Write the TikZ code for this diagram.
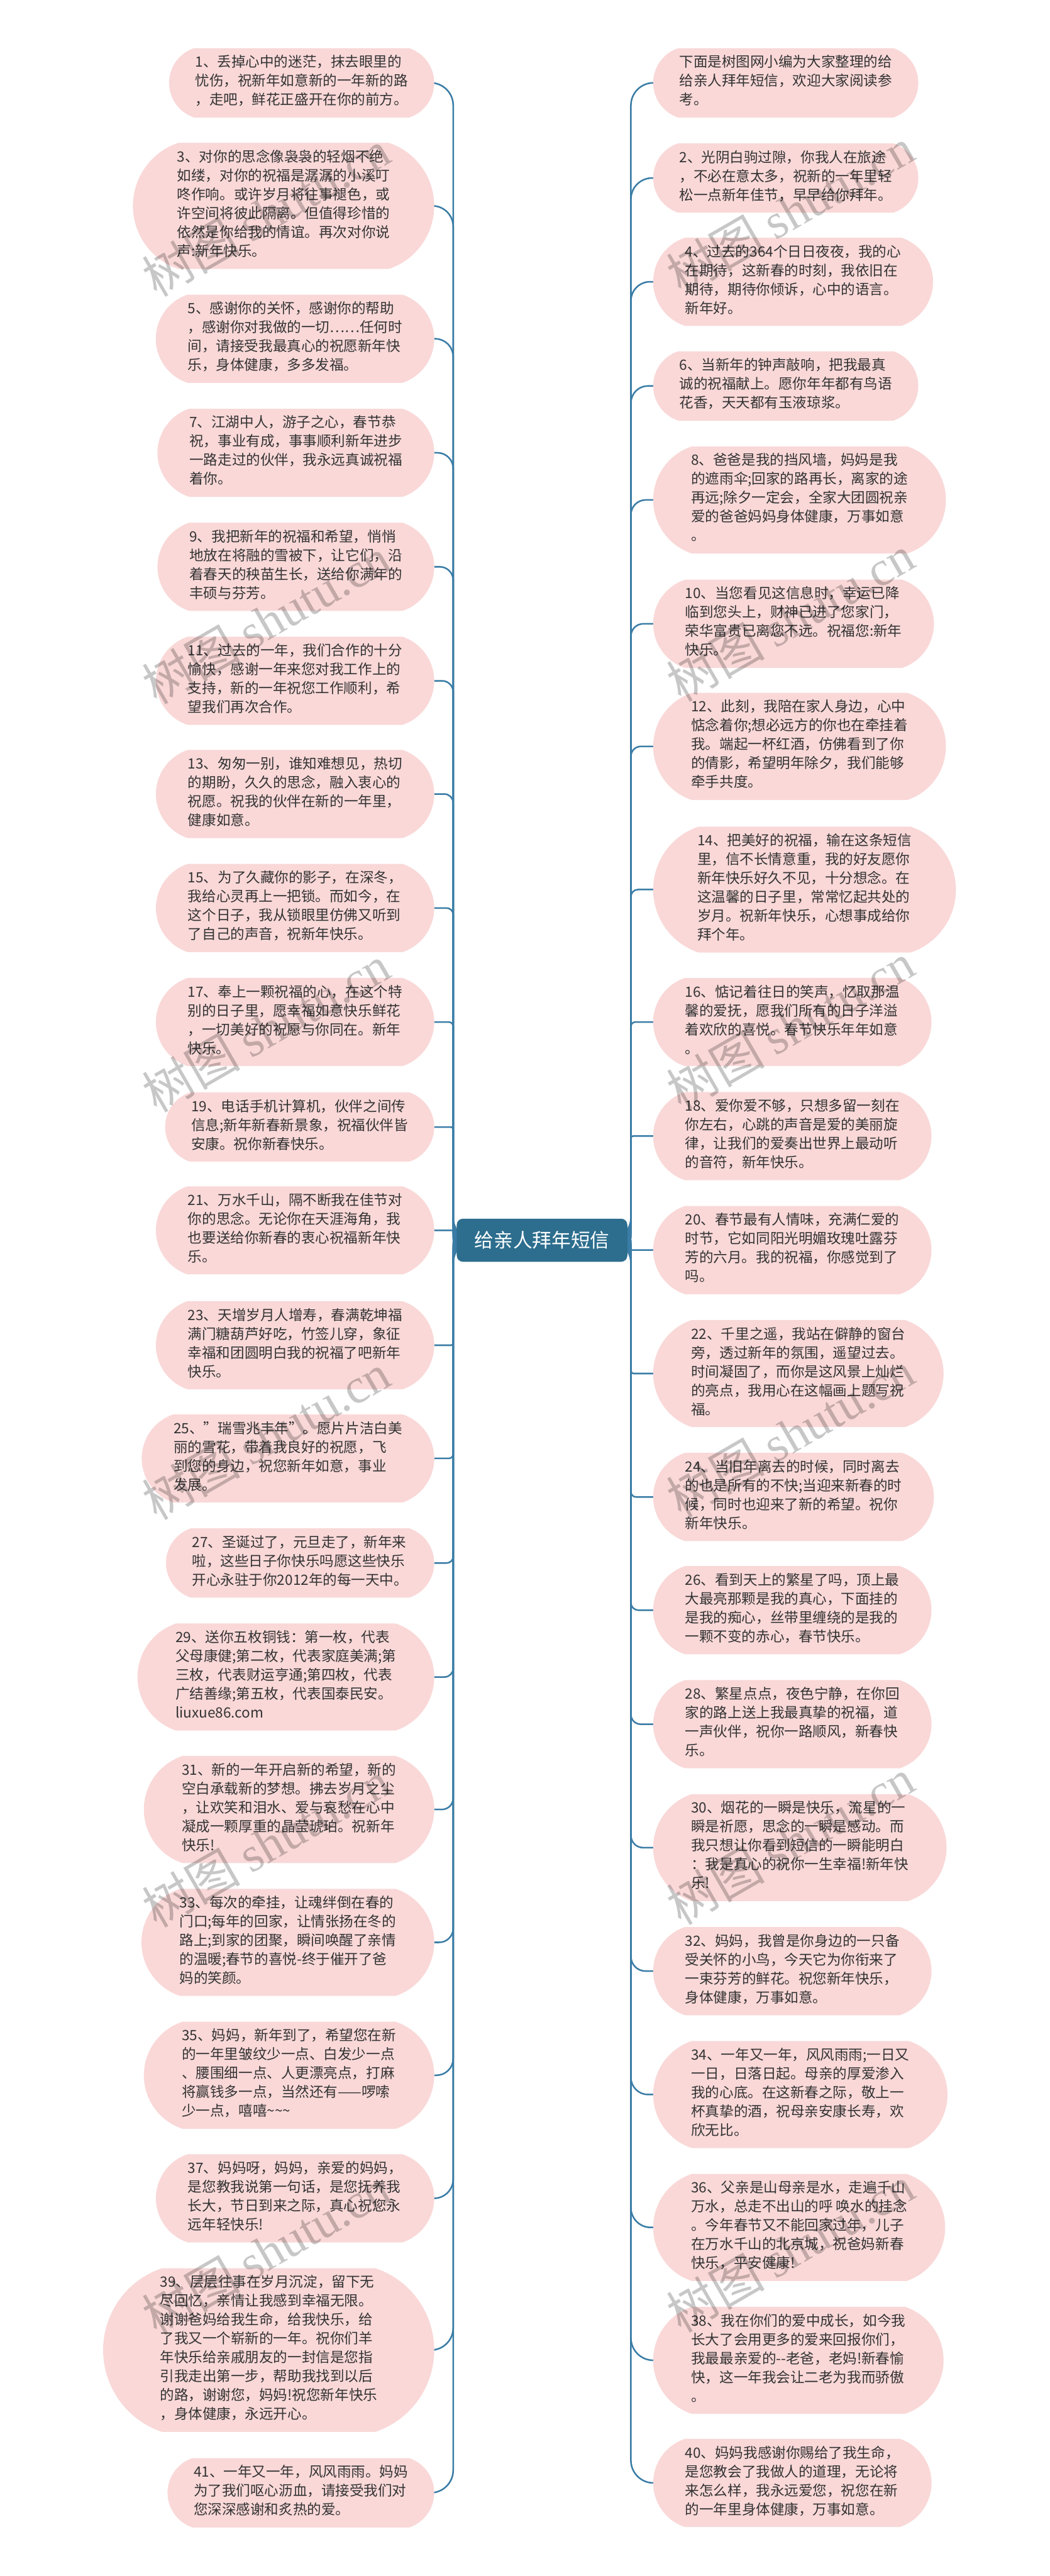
\documentclass[tikz,border=0pt]{standalone}
\usepackage{fontspec}
\setmainfont{Noto Sans CJK SC}
\newfontfamily\wmserif{Liberation Serif}
\usetikzlibrary{shapes.misc,backgrounds}
\definecolor{leafpink}{HTML}{FAD8D8}
\definecolor{linkblue}{HTML}{3A7CA5}
\definecolor{rootblue}{HTML}{2D6E8E}
\definecolor{leafgray}{HTML}{333333}

\begin{document}
\begin{tikzpicture}[y=-1cm,
	leaf/.style={rounded rectangle, rounded rectangle arc length=143, fill=leafpink, text=leafgray,
		align=left, inner xsep=0.33cm, inner ysep=0.17cm, outer sep=0pt,
		font=\fontsize{9.84}{13.09}\selectfont, execute at begin node=\strut, execute at end node=\strut},
	root/.style={rounded corners=0.15cm, fill=rootblue, text=white, minimum width=4.16cm,
		minimum height=1.05cm, font=\fontsize{13.4}{16}\selectfont},
	link/.style={draw=linkblue, line width=1.1pt},
	stamp/.style={rotate=30, text=black, text opacity=0.22, font=\fontsize{34}{34}\selectfont}]
	%\draw[help lines] (0,0) grid (25.6,62.8);
	\useasboundingbox (0,0) rectangle (25.60,62.81);
	
	\node[root] (root) at (13.22,30.24) {给亲人拜年短信};
	
	% left side
	\foreach \n/\y/\t in {
		1/2.02/1、丢掉心中的迷茫，抹去眼里的\\忧伤，祝新年如意新的一年新的路\\，走吧，鲜花正盛开在你的前方。,
		3/5.02/3、对你的思念像袅袅的轻烟不绝\\如缕，对你的祝福是潺潺的小溪叮\\咚作响。或许岁月将往事褪色，或\\许空间将彼此隔离。但值得珍惜的\\依然是你给我的情谊。再次对你说\\声:新年快乐。,
		5/8.26/5、感谢你的关怀，感谢你的帮助\\，感谢你对我做的一切……任何时\\间，请接受我最真心的祝愿新年快\\乐，身体健康，多多发福。,
		7/11.04/7、江湖中人，游子之心，春节恭\\祝，事业有成，事事顺利新年进步\\一路走过的伙伴，我永远真诚祝福\\着你。,
		9/13.82/9、我把新年的祝福和希望，悄悄\\地放在将融的雪被下，让它们，沿\\着春天的秧苗生长，送给你满年的\\丰硕与芬芳。,
		11/16.60/11、过去的一年，我们合作的十分\\愉快，感谢一年来您对我工作上的\\支持，新的一年祝您工作顺利，希\\望我们再次合作。,
		13/19.36/13、匆匆一别，谁知难想见，热切\\的期盼，久久的思念，融入衷心的\\祝愿。祝我的伙伴在新的一年里，\\健康如意。,
		15/22.14/15、为了久藏你的影子，在深冬，\\我给心灵再上一把锁。而如今，在\\这个日子，我从锁眼里仿佛又听到\\了自己的声音，祝新年快乐。,
		17/24.92/17、奉上一颗祝福的心，在这个特\\别的日子里，愿幸福如意快乐鲜花\\，一切美好的祝愿与你同在。新年\\快乐。,
		19/27.48/19、电话手机计算机，伙伴之间传\\信息;新年新春新景象，祝福伙伴皆\\安康。祝你新春快乐。,
		21/30.00/21、万水千山，隔不断我在佳节对\\你的思念。无论你在天涯海角，我\\也要送给你新春的衷心祝福新年快\\乐。,
		23/32.80/23、天增岁月人增寿，春满乾坤福\\满门糖葫芦好吃，竹签儿穿，象征\\幸福和团圆明白我的祝福了吧新年\\快乐。,
		25/35.56/25、"瑞雪兆丰年"。愿片片洁白美\\丽的雪花，带着我良好的祝愿，飞\\到您的身边，祝您新年如意，事业\\发展。,
		27/38.11/27、圣诞过了，元旦走了，新年来\\啦，这些日子你快乐吗愿这些快乐\\开心永驻于你2012年的每一天中。,
		29/40.89/29、送你五枚铜钱：第一枚，代表\\父母康健;第二枚，代表家庭美满;第\\三枚，代表财运亨通;第四枚，代表\\广结善缘;第五枚，代表国泰民安。\\liuxue86.com,
		31/44.12/31、新的一年开启新的希望，新的\\空白承载新的梦想。拂去岁月之尘\\，让欢笑和泪水、爱与哀愁在心中\\凝成一颗厚重的晶莹琥珀。祝新年\\快乐!,
		33/47.36/33、每次的牵挂，让魂绊倒在春的\\门口;每年的回家，让情张扬在冬的\\路上;到家的团聚，瞬间唤醒了亲情\\的温暖;春节的喜悦-终于催开了爸\\妈的笑颜。,
		35/50.60/35、妈妈，新年到了，希望您在新\\的一年里皱纹少一点、白发少一点\\、腰围细一点、人更漂亮点，打麻\\将赢钱多一点，当然还有——啰嗦\\少一点，嘻嘻\textasciitilde\textasciitilde\textasciitilde,
		37/53.60/37、妈妈呀，妈妈，亲爱的妈妈，\\是您教我说第一句话，是您抚养我\\长大，节日到来之际，真心祝您永\\远年轻快乐!,
		39/57.30/39、层层往事在岁月沉淀，留下无\\尽回忆，亲情让我感到幸福无限。\\谢谢爸妈给我生命，给我快乐，给\\了我又一个崭新的一年。祝你们羊\\年快乐给亲戚朋友的一封信是您指\\引我走出第一步，帮助我找到以后\\的路，谢谢您，妈妈!祝您新年快乐\\，身体健康，永远开心。,
		41/60.78/41、一年又一年，风风雨雨。妈妈\\为了我们呕心沥血，请接受我们对\\您深深感谢和炙热的爱。}
	{
		\node[leaf, anchor=east] (l\n) at (10.59,\y) {\t};
		\pgfmathsetmacro\rr{min(0.55,0.02*abs(\y-30.24))}
		\begin{scope}[on background layer]
			\draw[link, rounded corners=\rr cm] (root.west) -- ++(-0.08,0) |- (l\n.east);
		\end{scope}
	}
	
	% right side
	\foreach \n/\y/\t in {
		0/2.02/下面是树图网小编为大家整理的给\\给亲人拜年短信，欢迎大家阅读参\\考。,
		2/4.34/2、光阴白驹过隙，你我人在旅途\\，不必在意太多，祝新的一年里轻\\松一点新年佳节，早早给你拜年。,
		4/6.87/4、过去的364个日日夜夜，我的心\\在期待，这新春的时刻，我依旧在\\期待，期待你倾诉，心中的语言。\\新年好。,
		6/9.41/6、当新年的钟声敲响，把我最真\\诚的祝福献上。愿你年年都有鸟语\\花香，天天都有玉液琼浆。,
		8/12.19/8、爸爸是我的挡风墙，妈妈是我\\的遮雨伞;回家的路再长，离家的途\\再远;除夕一定会，全家大团圆祝亲\\爱的爸爸妈妈身体健康，万事如意\\。,
		10/15.21/10、当您看见这信息时，幸运已降\\临到您头上，财神已进了您家门，\\荣华富贵已离您不远。祝福您:新年\\快乐。,
		12/18.20/12、此刻，我陪在家人身边，心中\\惦念着你;想必远方的你也在牵挂着\\我。端起一杯红酒，仿佛看到了你\\的倩影，希望明年除夕，我们能够\\牵手共度。,
		14/21.69/14、把美好的祝福，输在这条短信\\里，信不长情意重，我的好友愿你\\新年快乐好久不见，十分想念。在\\这温馨的日子里，常常忆起共处的\\岁月。祝新年快乐，心想事成给你\\拜个年。,
		16/24.92/16、惦记着往日的笑声，忆取那温\\馨的爱抚，愿我们所有的日子洋溢\\着欢欣的喜悦。春节快乐年年如意\\。,
		18/27.70/18、爱你爱不够，只想多留一刻在\\你左右，心跳的声音是爱的美丽旋\\律，让我们的爱奏出世界上最动听\\的音符，新年快乐。,
		20/30.48/20、春节最有人情味，充满仁爱的\\时节，它如同阳光明媚玫瑰吐露芬\\芳的六月。我的祝福，你感觉到了\\吗。,
		22/33.49/22、千里之遥，我站在僻静的窗台\\旁，透过新年的氛围，遥望过去。\\时间凝固了，而你是这风景上灿烂\\的亮点，我用心在这幅画上题写祝\\福。,
		24/36.50/24、当旧年离去的时候，同时离去\\的也是所有的不快;当迎来新春的时\\候，同时也迎来了新的希望。祝你\\新年快乐。,
		26/39.26/26、看到天上的繁星了吗，顶上最\\大最亮那颗是我的真心，下面挂的\\是我的痴心，丝带里缠绕的是我的\\一颗不变的赤心，春节快乐。,
		28/42.04/28、繁星点点，夜色宁静，在你回\\家的路上送上我最真挚的祝福，道\\一声伙伴，祝你一路顺风，新春快\\乐。,
		30/45.05/30、烟花的一瞬是快乐，流星的一\\瞬是祈愿，思念的一瞬是感动。而\\我只想让你看到短信的一瞬能明白\\：我是真心的祝你一生幸福!新年快\\乐!,
		32/48.06/32、妈妈，我曾是你身边的一只备\\受关怀的小鸟，今天它为你衔来了\\一束芬芳的鲜花。祝您新年快乐，\\身体健康，万事如意。,
		34/51.07/34、一年又一年，风风雨雨;一日又\\一日，日落日起。母亲的厚爱渗入\\我的心底。在这新春之际，敬上一\\杯真挚的酒，祝母亲安康长寿，欢\\欣无比。,
		36/54.31/36、父亲是山母亲是水，走遍千山\\万水，总走不出山的呼 唤水的挂念\\。今年春节又不能回家过年，儿子\\在万水千山的北京城，祝爸妈新春\\快乐，平安健康!,
		38/57.55/38、我在你们的爱中成长，如今我\\长大了会用更多的爱来回报你们，\\我最最亲爱的-{}-老爸，老妈!新春愉\\快，这一年我会让二老为我而骄傲\\。,
		40/60.54/40、妈妈我感谢你赐给了我生命，\\是您教会了我做人的道理，无论将\\来怎么样，我永远爱您，祝您在新\\的一年里身体健康，万事如意。}
	{
		\node[leaf, anchor=west] (r\n) at (15.93,\y) {\t};
		\pgfmathsetmacro\rr{min(0.55,0.02*abs(\y-30.24))}
		\begin{scope}[on background layer]
			\draw[link, rounded corners=\rr cm] (root.east) -- ++(0.08,0) |- (r\n.west);
		\end{scope}
	}
	
	% watermark
	\foreach \k in {0,...,5}
	{
		\node[stamp] (wl\k) at (6.49,5.20+9.94*\k) {树图 {\wmserif shutu.cn}};
		\node[stamp] (wr\k) at (19.28,5.14+9.94*\k) {树图 {\wmserif shutu.cn}};
	}
\end{tikzpicture}
\end{document}
